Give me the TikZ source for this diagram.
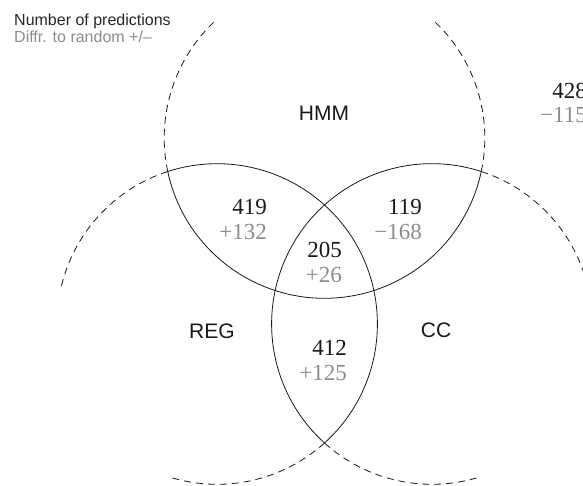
\documentclass[tikz,border=0pt]{standalone}
\usepackage{fontspec}
\setmainfont{Liberation Serif}
\setsansfont{Liberation Sans}
\begin{document}
\begin{tikzpicture}[x=1pt,y=1pt,
  solidarc/.style={line width=0.8pt, draw=black!90},
  dasharc/.style={line width=0.8pt, draw=black!90, dash pattern=on 7pt off 5pt},
  cnt/.style={anchor=base east, inner sep=0pt, font=\fontsize{23}{25}\selectfont, text=black!90},
  diff/.style={anchor=base east, inner sep=0pt, font=\fontsize{23}{25}\selectfont, text=black!45},
  setlabel/.style={anchor=base, inner sep=0pt, font=\sffamily\fontsize{21}{24}\selectfont, text=black!90},
  legendA/.style={anchor=base west, inner sep=0pt, font=\sffamily\fontsize{16}{18}\selectfont, text=black!85},
  legendB/.style={anchor=base west, inner sep=0pt, font=\sffamily\fontsize{16}{18}\selectfont, text=black!45}
]
\useasboundingbox (0,0) rectangle (583,485);
\clip (0,0) rectangle (583,485);
\def\vr{160.3}
\coordinate (hmm) at (324.5,347);
\coordinate (reg) at (217.1,161);
\coordinate (cc) at (431.9,161);
% HMM circle
\draw[solidarc] ([shift={(192.06:\vr)}]hmm) arc[start angle=192.06, end angle=347.94, radius=\vr];
\draw[dasharc] ([shift={(192.06:\vr)}]hmm) arc[start angle=192.06, end angle=132.06, radius=\vr];
\draw[dasharc] ([shift={(347.94:\vr)}]hmm) arc[start angle=347.94, end angle=407.94, radius=\vr];
% REG circle
\draw[solidarc] ([shift={(-47.94:\vr)}]reg) arc[start angle=-47.94, end angle=107.94, radius=\vr];
\draw[dasharc] ([shift={(107.94:\vr)}]reg) arc[start angle=107.94, end angle=167.94, radius=\vr];
\draw[dasharc] ([shift={(-47.94:\vr)}]reg) arc[start angle=-47.94, end angle=-107.94, radius=\vr];
% CC circle
\draw[solidarc] ([shift={(72.06:\vr)}]cc) arc[start angle=72.06, end angle=227.94, radius=\vr];
\draw[dasharc] ([shift={(227.94:\vr)}]cc) arc[start angle=227.94, end angle=287.94, radius=\vr];
\draw[dasharc] ([shift={(72.06:\vr)}]cc) arc[start angle=72.06, end angle=12.06, radius=\vr];
% legend
\node[legendA] (leg1) at (14,459) {Number of predictions};
\node[legendB] (leg2) at (14,442) {Diffr. to random +/–};
% set labels
\node[setlabel] (lhmm) at (324,364) {HMM};
\node[setlabel] (lreg) at (212,147) {REG};
\node[setlabel] (lcc) at (436,148) {CC};
% counts
\node[cnt] (n419) at (267,270) {419};
\node[diff] (d419) at (267,245) {+132};
\node[cnt] (n119) at (422,270) {119};
\node[diff] (d119) at (422,245) {−168};
\node[cnt] (n205) at (342,227) {205};
\node[diff] (d205) at (342,203) {+26};
\node[cnt] (n412) at (347,130) {412};
\node[diff] (d412) at (347,105) {+125};
\node[cnt] (n428) at (587,386) {428};
\node[diff] (d428) at (587,362) {−115};
\end{tikzpicture}
\end{document}
